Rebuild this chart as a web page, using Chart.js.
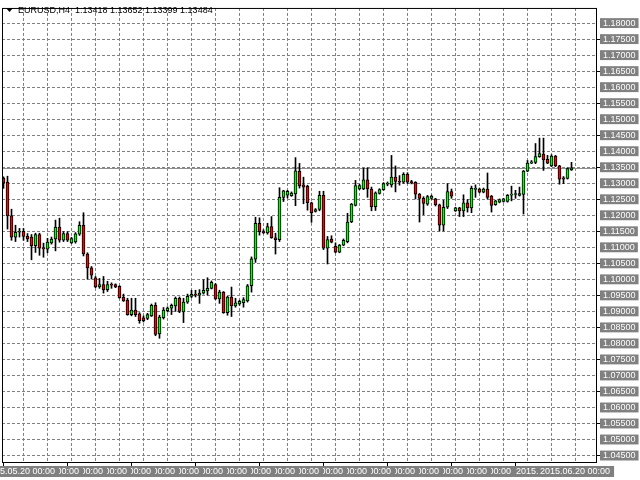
<html>
    <head>
        <script src="https://cdn.jsdelivr.net/npm/chart.js@4.4.0/dist/chart.umd.min.js"></script>
        <style>
            body {
                margin: 0px;
                background: #ffffff;
            }

            #chart {
                display: block;
            }
        </style>
    </head>

    <body>
        <canvas id="chart" width="640" height="480"></canvas>
        <script>
            const symbol = 'EURUSD'
            const period = 'H4'

            // H4 candles, oldest first
            const opens = [
                1.1316, 1.1304, 1.1198, 1.1132, 1.1147, 1.1150, 1.1134, 1.1132, 1.1105, 1.1140,
                1.1097, 1.1094, 1.1114, 1.1126, 1.1163, 1.1122, 1.1143, 1.1114, 1.1117, 1.1141,
                1.1169, 1.1079, 1.1036, 1.1005, 1.0976, 1.0984, 1.0968, 1.0983, 1.0984, 1.0978,
                1.0945, 1.0935, 1.0890, 1.0904, 1.0892, 1.0880, 1.0878, 1.0886, 1.0919, 1.0830,
                1.0880, 1.0902, 1.0910, 1.0917, 1.0941, 1.0898, 1.0929, 1.0947, 1.0953, 1.0951,
                1.0957, 1.0964, 1.0972, 1.0984, 1.0939, 1.0960, 1.0896, 1.0945, 1.0917, 1.0923,
                1.0927, 1.0933, 1.0980, 1.1063, 1.1175, 1.1149, 1.1145, 1.1165, 1.1130, 1.1124,
                1.1256, 1.1263, 1.1261, 1.1267, 1.1338, 1.1295, 1.1290, 1.1239, 1.1212, 1.1218,
                1.1262, 1.1097, 1.1126, 1.1103, 1.1085, 1.1107, 1.1118, 1.1179, 1.1231, 1.1282,
                1.1282, 1.1311, 1.1282, 1.1227, 1.1268, 1.1280, 1.1297, 1.1295, 1.1319, 1.1306,
                1.1303, 1.1328, 1.1305, 1.1303, 1.1266, 1.1253, 1.1235, 1.1253, 1.1251, 1.1233,
                1.1169, 1.1225, 1.1274, 1.1214, 1.1223, 1.1214, 1.1239, 1.1223, 1.1281, 1.1282,
                1.1272, 1.1282, 1.1260, 1.1233, 1.1241, 1.1243, 1.1243, 1.1263, 1.1265, 1.1262,
                1.1265, 1.1338, 1.1363, 1.1365, 1.1383, 1.1391, 1.1375, 1.1354, 1.1385, 1.1354,
                1.1317, 1.1315, 1.13418,
            ]
            const highs = [
                1.1320, 1.1322, 1.1219, 1.1169, 1.1159, 1.1159, 1.1143, 1.1140, 1.1144, 1.1144,
                1.1113, 1.1128, 1.1132, 1.1185, 1.1191, 1.1149, 1.1149, 1.1131, 1.1146, 1.1180,
                1.1208, 1.1083, 1.1040, 1.1009, 1.1003, 1.1009, 1.0994, 1.0989, 1.0986, 1.0980,
                1.0954, 1.0941, 1.0941, 1.0941, 1.0896, 1.0886, 1.0894, 1.0923, 1.0927, 1.0888,
                1.0912, 1.0914, 1.0923, 1.0945, 1.0945, 1.0941, 1.0954, 1.0966, 1.0966, 1.0968,
                1.0999, 1.1005, 1.0995, 1.0987, 1.0966, 1.0962, 1.0947, 1.0976, 1.0941, 1.0935,
                1.0943, 1.0984, 1.1070, 1.1194, 1.1192, 1.1155, 1.1175, 1.1196, 1.1144, 1.1286,
                1.1278, 1.1278, 1.1273, 1.1380, 1.1362, 1.1319, 1.1294, 1.1241, 1.1221, 1.1275,
                1.1275, 1.1134, 1.1136, 1.1114, 1.1109, 1.1126, 1.1206, 1.1237, 1.1309, 1.1297,
                1.1347, 1.1348, 1.1288, 1.1273, 1.1283, 1.1302, 1.1304, 1.1387, 1.1354, 1.1324,
                1.1333, 1.1333, 1.1309, 1.1305, 1.1268, 1.1258, 1.1262, 1.1263, 1.1253, 1.1235,
                1.1247, 1.1299, 1.1282, 1.1225, 1.1225, 1.1264, 1.1249, 1.1291, 1.1295, 1.1285,
                1.1285, 1.1332, 1.1262, 1.1247, 1.1251, 1.1253, 1.1265, 1.1291, 1.1278, 1.1288,
                1.1340, 1.1371, 1.1371, 1.1424, 1.1441, 1.1441, 1.1387, 1.1389, 1.1387, 1.1356,
                1.1321, 1.1348, 1.13652,
            ]
            const lows = [
                1.1284, 1.1157, 1.1122, 1.1118, 1.1132, 1.1122, 1.1118, 1.1061, 1.1084, 1.1075,
                1.1069, 1.1083, 1.1110, 1.1089, 1.1116, 1.1118, 1.1118, 1.1112, 1.1113, 1.1137,
                1.1073, 1.1001, 1.1001, 1.0974, 1.0972, 1.0957, 1.0962, 1.0972, 1.0974, 1.0941,
                1.0931, 1.0888, 1.0886, 1.0884, 1.0863, 1.0867, 1.0874, 1.0884, 1.0824, 1.0816,
                1.0876, 1.0898, 1.0890, 1.0900, 1.0896, 1.0865, 1.0925, 1.0943, 1.0945, 1.0925,
                1.0954, 1.0951, 1.0970, 1.0937, 1.0925, 1.0894, 1.0888, 1.0884, 1.0913, 1.0919,
                1.0913, 1.0929, 1.0960, 1.1053, 1.1138, 1.1143, 1.1141, 1.1128, 1.1079, 1.1118,
                1.1243, 1.1254, 1.1259, 1.1230, 1.1285, 1.1236, 1.1216, 1.1178, 1.1210, 1.1214,
                1.1093, 1.1048, 1.1114, 1.1083, 1.1083, 1.1105, 1.1114, 1.1177, 1.1229, 1.1280,
                1.1280, 1.1256, 1.1214, 1.1215, 1.1266, 1.1278, 1.1292, 1.1288, 1.1273, 1.1294,
                1.1300, 1.1299, 1.1298, 1.1251, 1.1179, 1.1202, 1.1231, 1.1250, 1.1229, 1.1151,
                1.1151, 1.1221, 1.1253, 1.1212, 1.1196, 1.1196, 1.1210, 1.1208, 1.1256, 1.1270,
                1.1270, 1.1251, 1.1210, 1.1231, 1.1239, 1.1241, 1.1241, 1.1245, 1.1253, 1.1260,
                1.1204, 1.1336, 1.1361, 1.1361, 1.1381, 1.1340, 1.1361, 1.1352, 1.1352, 1.1297,
                1.1299, 1.1313, 1.13399,
            ]
            const closes = [
                1.1301, 1.1198, 1.1132, 1.1147, 1.1150, 1.1134, 1.1126, 1.1105, 1.1140, 1.1097,
                1.1095, 1.1116, 1.1126, 1.1163, 1.1122, 1.1143, 1.1122, 1.1127, 1.1142, 1.1169,
                1.1079, 1.1036, 1.1013, 1.0976, 1.0984, 1.0968, 1.0984, 1.0982, 1.0976, 1.0943,
                1.0933, 1.0890, 1.0904, 1.0890, 1.0871, 1.0871, 1.0890, 1.0919, 1.0828, 1.0882,
                1.0904, 1.0910, 1.0919, 1.0941, 1.0900, 1.0929, 1.0947, 1.0953, 1.0951, 1.0957,
                1.0966, 1.0972, 1.0991, 1.0939, 1.0960, 1.0896, 1.0945, 1.0917, 1.0927, 1.0931,
                1.0937, 1.0980, 1.1064, 1.1175, 1.1149, 1.1146, 1.1165, 1.1130, 1.1124, 1.1256,
                1.1276, 1.1275, 1.1269, 1.1339, 1.1292, 1.1288, 1.1239, 1.1208, 1.1218, 1.1262,
                1.1097, 1.1124, 1.1116, 1.1085, 1.1107, 1.1122, 1.1179, 1.1235, 1.1293, 1.1293,
                1.1311, 1.1282, 1.1227, 1.1270, 1.1280, 1.1299, 1.1299, 1.1319, 1.1306, 1.1303,
                1.1328, 1.1303, 1.1301, 1.1266, 1.1253, 1.1237, 1.1258, 1.1260, 1.1233, 1.1169,
                1.1225, 1.1274, 1.1260, 1.1223, 1.1214, 1.1239, 1.1223, 1.1284, 1.1283, 1.1272,
                1.1282, 1.1256, 1.1231, 1.1245, 1.1249, 1.1251, 1.1262, 1.1265, 1.1267, 1.1268,
                1.1338, 1.1363, 1.1367, 1.1383, 1.1393, 1.1373, 1.1363, 1.1385, 1.1354, 1.1313,
                1.1313, 1.1346, 1.13484,
            ]

            const priceLabels = [
                '1.04500', '1.05000', '1.05500', '1.06000', '1.06500', '1.07000', '1.07500',
                '1.08000', '1.08500', '1.09000', '1.09500', '1.10000', '1.10500', '1.11000',
                '1.11500', '1.12000', '1.12500', '1.13000', '1.13500', '1.14000', '1.14500',
                '1.15000', '1.15500', '1.16000', '1.16500', '1.17000', '1.17500', '1.18000',
            ]
            const dayLabels = [
                '2015.05.20 00:00', '2015.05.21 00:00', '2015.05.22 00:00', '2015.05.25 00:00',
                '2015.05.26 00:00', '2015.05.27 00:00', '2015.05.28 00:00', '2015.05.29 00:00',
                '2015.06.01 00:00', '2015.06.02 00:00', '2015.06.03 00:00', '2015.06.04 00:00',
                '2015.06.05 00:00', '2015.06.08 00:00', '2015.06.09 00:00', '2015.06.10 00:00',
                '2015.06.11 00:00', '2015.06.12 00:00', '2015.06.15 00:00', '2015.06.16 00:00',
            ]
            const tailLabels = ['2015.06.17 00:00', '2015.06.20 00:00']
            const tailLabelBars = [128, 134]

            const firstDayBar = 5
            const barsPerDay = 6
            const timeTickBars = [0, 16, 32, 48, 64, 80, 96, 112, 128]
            const priceMin = 1.042668
            const priceMax = 1.184725

            const gridBars = []
            for (let b = firstDayBar; b < 148; b += barsPerDay) gridBars.push(b)

            const wicks = opens.map((o, i) => ({ x: i, y: [lows[i], highs[i]] }))
            const bodies = opens.map((o, i) => ({ x: i, y: [o, closes[i]] }))
            const bodyColors = opens.map((o, i) => (closes[i] >= o ? '#00ff00' : '#ff0000'))

            const labelFont = '9px "Liberation Sans"'

            const mt4Plugin = {
                id: 'mt4',
                beforeDatasetsDraw(chart) {
                    // bid line
                    const { ctx, chartArea: a, scales } = chart
                    const py = Math.round(scales.y.getPixelForValue(closes[closes.length - 1])) + 0.5
                    ctx.save()
                    ctx.strokeStyle = '#909090'
                    ctx.lineWidth = 1
                    ctx.beginPath()
                    ctx.moveTo(a.left, py)
                    ctx.lineTo(a.right, py)
                    ctx.stroke()
                    ctx.restore()
                },
                afterDraw(chart) {
                    const { ctx, chartArea: a, scales } = chart
                    const x = scales.x
                    ctx.save()

                    // frame
                    ctx.strokeStyle = '#000000'
                    ctx.lineWidth = 1
                    ctx.strokeRect(a.left + 0.5, a.top + 0.5, a.right - a.left - 1, a.bottom - a.top - 1)

                    // time ticks
                    ctx.beginPath()
                    timeTickBars.forEach((b) => {
                        const px = Math.floor(x.getPixelForValue(b)) + 0.5
                        ctx.moveTo(px, a.bottom)
                        ctx.lineTo(px, a.bottom + 3)
                    })
                    ctx.stroke()

                    // time labels, drawn right to left so the left one stays on top
                    ctx.font = labelFont
                    ctx.textBaseline = 'middle'
                    const boxTop = a.bottom + 3
                    const drawLabel = (text, left) => {
                        const w = ctx.measureText(text).width
                        ctx.fillStyle = '#808080'
                        ctx.fillRect(left, boxTop, w + 6, 11)
                        ctx.fillStyle = '#ffffff'
                        ctx.fillText(text, left + 2, boxTop + 5.5)
                    }
                    for (let k = dayLabels.length - 1; k >= 0; k--) {
                        const right = x.getPixelForValue(firstDayBar + barsPerDay * k + 9) - 0.5
                        const w = ctx.measureText(dayLabels[k]).width + 6
                        drawLabel(dayLabels[k], right - w)
                    }
                    tailLabels.forEach((t, j) => {
                        drawLabel(t, x.getPixelForValue(tailLabelBars[j]) - 1.5)
                    })

                    // header
                    ctx.fillStyle = '#000000'
                    ctx.beginPath()
                    ctx.moveTo(6, 8)
                    ctx.lineTo(13, 8)
                    ctx.lineTo(9.5, 12)
                    ctx.closePath()
                    ctx.fill()
                    const n = closes.length - 1
                    const header = symbol + ',' + period + '  ' +
                        [opens[n], highs[n], lows[n], closes[n]].map((v) => v.toFixed(5)).join(' ')
                    ctx.font = labelFont
                    ctx.textBaseline = 'middle'
                    ctx.fillText(header, 18, 10.5)
                    ctx.restore()
                },
            }

            const ctx = document.getElementById('chart')
            const chart = new Chart(ctx, {
                type: 'bar',
                data: {
                    datasets: [
                        {
                            data: wicks,
                            backgroundColor: '#000000',
                            borderWidth: 0,
                            barThickness: 1,
                            grouped: false,
                            order: 2,
                        },
                        {
                            data: bodies,
                            backgroundColor: bodyColors,
                            borderColor: '#000000',
                            borderWidth: 1,
                            borderSkipped: false,
                            barThickness: 3,
                            minBarLength: 1,
                            grouped: false,
                            order: 1,
                        },
                    ],
                },
                options: {
                    responsive: false,
                    animation: false,
                    devicePixelRatio: 1,
                    layout: {
                        autoPadding: false,
                        padding: { left: 2, top: 0, right: 0, bottom: 0 },
                    },
                    plugins: {
                        legend: { display: false },
                        tooltip: { enabled: false },
                    },
                    scales: {
                        x: {
                            type: 'linear',
                            position: 'bottom',
                            offset: false,
                            min: -0.375,
                            max: 148.375,
                            afterBuildTicks: (scale) => {
                                scale.ticks = gridBars.map((b) => ({ value: b }))
                            },
                            afterFit: (scale) => {
                                scale.height = 17
                            },
                            ticks: { display: false, autoSkip: false },
                            grid: { color: '#808080', drawTicks: false, offset: false },
                            border: { display: false, dash: [3, 2] },
                        },
                        y: {
                            type: 'linear',
                            position: 'right',
                            min: priceMin,
                            max: priceMax,
                            afterBuildTicks: (scale) => {
                                scale.ticks = priceLabels.map((s) => ({ value: parseFloat(s) }))
                            },
                            afterFit: (scale) => {
                                scale.width = 43
                            },
                            ticks: {
                                autoSkip: false,
                                padding: 3,
                                color: '#ffffff',
                                font: { family: 'Liberation Sans', size: 9, lineHeight: 1.1 },
                                showLabelBackdrop: true,
                                backdropColor: '#808080',
                                backdropPadding: { left: 3, right: 3, top: 0, bottom: 0 },
                                callback: (v, i) => priceLabels[i],
                            },
                            grid: {
                                color: '#808080',
                                drawTicks: true,
                                tickLength: 3,
                                tickColor: (c) =>
                                    c.tick && Math.round(c.tick.value * 1000) % 10 === 5 ? '#000000' : 'rgba(0,0,0,0)',
                            },
                            border: { display: false, dash: [3, 2] },
                        },
                    },
                },
                plugins: [mt4Plugin],
            })
        </script>
    </body>
</html>
